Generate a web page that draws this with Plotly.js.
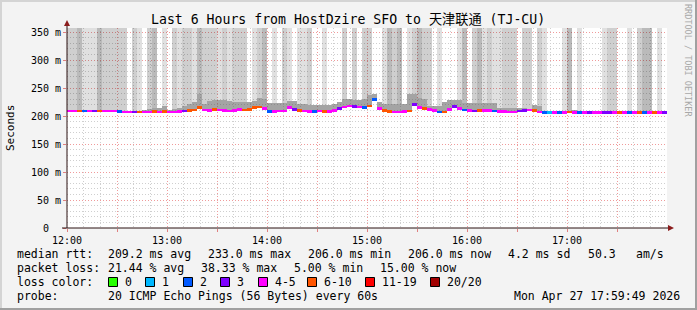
<!DOCTYPE html>
<html><head><meta charset="utf-8">
<script src="https://cdn.plot.ly/plotly-3.0.1.min.js"></script>
<style>html,body{margin:0;padding:0;background:#f3f3f3;}#chart{width:697px;height:310px;}</style>
</head><body><div id="chart"></div>
<script>
// ---- data (3-minute bins from 12:00) ----
const binMinutes = 3;
const median = [
209,209,209,209,209,209,209,209,209,209,
208,207,207,207,207,207,207,208,207,208,
207,207,208,209,210,211,215,211,210,212,
211,210,209,210,212,211,212,215,216,213,
208,208,209,209,215,212,210,209,208,208,
209,208,208,210,214,216,218,217,216,215,
218,230,214,210,208,207,207,208,209,220,
215,213,212,210,207,207,212,217,213,211,
210,209,210,210,210,209,208,208,207,207,
209,210,211,210,207,206,206,206,206,206,
207,206,206,206,206,206,206,206,206,206,
206,206,206,206,206,206,206,206,206,206];
const smokeTop = [
209,209,209,209,209,209,209,209,209,209,
208,207,207,207,208,210,212,215,214,218,
210,213,214,218,222,225,239,222,226,228,
228,228,226,225,225,225,225,226,232,230,
224,224,224,224,227,226,222,221,220,220,
220,220,220,221,225,230,230,228,229,230,
238,240,225,222,222,222,222,222,240,240,
232,230,218,218,218,225,229,229,229,223,
223,223,223,223,223,223,215,214,214,214,
214,214,212,220,218,208,206,206,206,206,
207,211,206,206,206,206,206,206,206,206,
206,206,206,206,206,206,206,206,206,206];
// shade of the off-scale smoke (0 none .. 3 dark)
const tallShade = [
2,2,3,1,1,1,3,2,2,2,
2,2,0,2,1,0,2,3,0,1,
0,2,1,2,2,1,3,2,2,2,
1,2,1,2,2,2,0,1,2,3,
0,1,0,2,1,0,1,1,2,0,
0,1,0,0,0,2,0,2,0,2,
2,0,0,1,3,2,3,0,1,2,
3,2,2,0,1,0,0,0,1,3,
0,2,3,1,2,1,1,2,2,2,
0,2,2,0,2,1,0,0,0,1,
3,0,1,0,0,0,0,1,2,2,
0,0,1,0,2,3,3,0,1,0];
// lost pings out of 20
const lossCount = [
4,4,7,2,4,3,7,4,4,4,
2,4,4,3,7,4,4,7,4,7,
4,4,4,3,7,7,8,4,4,7,
4,4,4,4,4,7,7,7,7,4,
2,4,4,4,4,3,7,4,4,2,
4,7,4,4,3,4,4,3,4,2,
7,2,4,7,7,4,4,4,7,3,
4,7,4,4,2,7,4,3,4,2,
4,3,7,4,4,2,4,4,4,4,
3,3,4,7,4,2,1,4,2,4,
7,4,2,4,3,4,4,3,3,4,
7,4,2,4,7,2,4,7,4,3];
const hourLabels = ["12:00","13:00","14:00","15:00","16:00","17:00"];
const yTickValues = [0,50,100,150,200,250,300,350];
const yTickLabels = ["0\u00a0\u00a0","50 m","100 m","150 m","200 m","250 m","300 m","350 m"];
const lossLabels = ["0","1","2","3","4-5","6-10","11-19","20/20"];
const lossUpper  = [0,1,2,3,5,10,19,20];
const lossColors = ["#26ff00","#00b8ff","#0059ff","#7e00ff","#ff00ff","#ff5500","#ff0000","#a10000"];
const shadeColors = ["rgba(0,0,0,0)","rgba(0,0,0,0.12)","rgba(0,0,0,0.19)","rgba(0,0,0,0.27)"];

// ---- geometry ----
const W=697,H=310,L=67,R=667,T=28,B=228;
const Y_MAX = 200/0.56;
const px = x => (x-L)/(R-L);
const py = y => (B-y)/(B-T);
const MONO = "DejaVu Sans Mono, Noto Sans CJK SC, monospace";

const xs = median.map((_,i)=> i*binMinutes + binMinutes/2);
const lossColor = c => lossColors[lossUpper.findIndex(u => c <= u)];

const traces = [
  {type:"bar", x:xs, base:smokeTop, y:smokeTop.map((t,i)=> tallShade[i]>0 ? Y_MAX-t : 0),
   width:binMinutes, marker:{color:tallShade.map(s=>shadeColors[s]), line:{width:0}}, hoverinfo:"skip"},
  {type:"bar", x:xs, base:median.map(m=>m-1), y:smokeTop.map((t,i)=> t-(median[i]-1)),
   width:binMinutes, marker:{color:"rgba(90,90,90,0.55)", line:{width:0}}, hoverinfo:"skip"},
  {type:"bar", x:xs, base:median.map(m=>m-2.4), y:median.map(()=>4.8),
   width:binMinutes, marker:{color:lossCount.map(lossColor), line:{width:0}}, hoverinfo:"skip"}
];

const xTickVals=[], xTickText=[];
for(let m=0;m<360;m+=30){ xTickVals.push(m); xTickText.push(m%60===0 ? hourLabels[m/60] : ""); }

const ann = [];
const txt = (x,y,text,opts={}) => ann.push(Object.assign({xref:"paper",yref:"paper",x:px(x),y:py(y),text:text,
  showarrow:false,xanchor:"left",yanchor:"middle",borderpad:0,font:{family:MONO,size:11.5,color:"#000"}},opts));

txt(348,20,"Last 6 Hours from HostDzire SFO to 天津联通 (TJ-CU)",{xanchor:"center",font:{family:MONO,size:13.2,color:"#000"}});
txt(10,128,"Seconds",{xanchor:"center",textangle:-90,font:{family:MONO,size:11,color:"#000"}});
txt(688,60,"RRDTOOL / TOBI OETIKER",{xanchor:"center",textangle:90,font:{family:MONO,size:8.5,color:"#a8a8a8"}});

const rtt = [[16,"median rtt:"],[107,"209.2 ms avg"],[207,"233.0 ms max"],[307,"206.0 ms min"],[407,"206.0 ms now"],[507,"4.2 ms sd"],[587,"50.3"],[635,"am/s"]];
rtt.forEach(([x,t])=>txt(x,254,t));
const pl = [[16,"packet loss:"],[107,"21.44 % avg"],[200,"38.33 % max"],[293,"5.00 % min"],[379,"15.00 % now"]];
pl.forEach(([x,t])=>txt(x,268,t));
txt(16,282,"loss color:");
const boxX = [108,145,183,220,258,307,365,430];
lossLabels.forEach((l,i)=>txt(boxX[i]+16,282,l));
txt(16,296,"probe:");
txt(107,296,"20 ICMP Echo Pings (56 Bytes) every 60s");
txt(513,296,"Mon Apr 27 17:59:49 2026");

const shapes = [];
const rectPx = (x0,y0,x1,y1,fill,line) => shapes.push({type:"rect",xref:"paper",yref:"paper",
  x0:px(x0),x1:px(x1),y0:py(y1),y1:py(y0),fillcolor:fill,line:line||{width:0},layer:"above"});
boxX.forEach((x,i)=>rectPx(x+0.5,277.5,x+9.5,286.5,lossColors[i],{color:"#000",width:1}));
// frame
rectPx(0,0,697,2,"#d4d4d4"); rectPx(0,0,2,310,"#d4d4d4");
rectPx(0,308,697,310,"#a0a0a0"); rectPx(695,0,697,310,"#a0a0a0");
// axis extensions and arrows
shapes.push({type:"line",xref:"paper",yref:"paper",x0:px(67),x1:px(67),y0:py(228),y1:py(24),line:{color:"#2a1010",width:1},layer:"above"});
shapes.push({type:"line",xref:"paper",yref:"paper",x0:px(62),x1:px(670),y0:py(228),y1:py(228),line:{color:"#2a1010",width:1},layer:"above"});
const path = pts => "M "+pts.map(p=>px(p[0])+","+py(p[1])).join(" L ")+" Z";
shapes.push({type:"path",xref:"paper",yref:"paper",path:path([[64,26],[70,26],[67,20]]),fillcolor:"#8b1c1c",line:{width:0},layer:"above"});
shapes.push({type:"path",xref:"paper",yref:"paper",path:path([[668,225],[668,231],[674,228]]),fillcolor:"#8b1c1c",line:{width:0},layer:"above"});

const layout = {
  width:W,height:H,margin:{l:L,r:W-R,t:T,b:H-B,pad:0},
  paper_bgcolor:"#f3f3f3",plot_bgcolor:"#ffffff",showlegend:false,
  barmode:"overlay",bargap:0,
  xaxis:{range:[0,360],tickvals:xTickVals,ticktext:xTickText,showgrid:true,gridcolor:"#f09a9a",griddash:"1px,2px",
    minor:{dtick:10,tick0:0,showgrid:true,gridcolor:"#cfcfcf",griddash:"1px,2px",ticks:""},
    ticks:"outside",ticklen:3,tickcolor:"#e08080",zeroline:false,showline:false,
    tickfont:{family:MONO,size:10,color:"#000"},fixedrange:true},
  yaxis:{range:[0,Y_MAX],tickvals:yTickValues,ticktext:yTickLabels,showgrid:true,gridcolor:"#f09a9a",griddash:"1px,2px",
    minor:{dtick:10,tick0:0,showgrid:true,gridcolor:"#cfcfcf",griddash:"1px,2px",ticks:""},
    ticks:"outside",ticklen:3,tickcolor:"#e08080",zeroline:false,showline:false,
    tickfont:{family:MONO,size:10,color:"#000"},fixedrange:true},
  annotations:ann, shapes:shapes
};
Plotly.newPlot("chart",traces,layout,{staticPlot:true,displayModeBar:false});
</script></body></html>
